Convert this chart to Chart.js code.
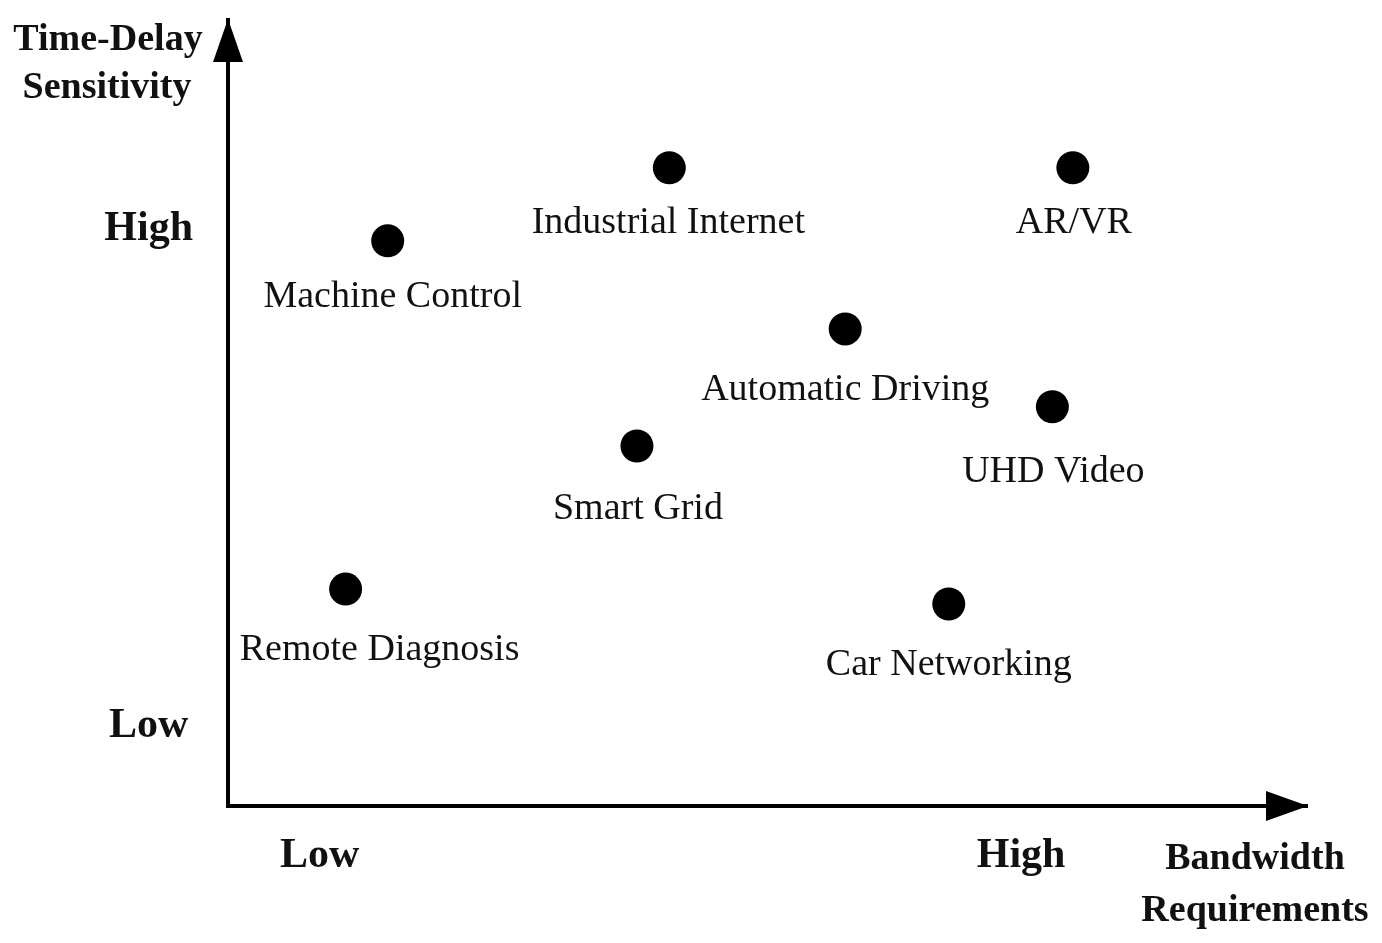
<!DOCTYPE html>
<html>
<head>
<meta charset="utf-8">
<script src="https://cdn.jsdelivr.net/npm/chart.js@4/dist/chart.umd.min.js"></script>
<style>
  html, body { margin: 0; padding: 0; background: #fff; }
  #wrap { width: 1382px; height: 943px; }
</style>
</head>
<body>
<div id="wrap"><canvas id="c" width="1382" height="943"></canvas></div>
<script>
// ---- data ----
const categories = ["Industrial Internet", "AR/VR", "Machine Control", "Automatic Driving",
                    "UHD Video", "Smart Grid", "Remote Diagnosis", "Car Networking"];
const bandwidth = [40.9, 78.3, 14.8, 57.2, 76.4, 37.9, 10.9, 66.8];   // x values
const delaySens = [81.2, 81.2, 71.9, 60.7, 50.8, 45.8, 27.6, 25.7];   // y values
const xTickValues = [8.5, 73.5];
const xTickLabels = ["Low", "High"];
const yTickValues = [10.2, 73.4];
const yTickLabels = ["Low", "High"];
const xTitle = ["Bandwidth", "Requirements"];
const yTitle = ["Time-Delay", "Sensitivity"];

// ---- label placement (style) ----
const labelOffsets = [[-1, 55], [1, 55], [5, 56], [0, 61], [1, 65], [1, 63], [34, 61], [0, 61]];

const serif = "'Liberation Serif', 'Times New Roman', serif";

const annotate = {
  id: 'annotate',
  afterDraw(chart) {
    const ctx = chart.ctx;
    const area = chart.chartArea;
    const meta = chart.getDatasetMeta(0);
    ctx.save();
    // point labels
    ctx.fillStyle = '#111';
    ctx.font = "38px " + serif;
    ctx.textAlign = 'center';
    ctx.textBaseline = 'middle';
    meta.data.forEach((pt, i) => {
      const off = labelOffsets[i] || [0, 55];
      ctx.fillText(categories[i], pt.x + off[0], pt.y + off[1]);
    });
    // arrowheads
    ctx.fillStyle = '#000';
    ctx.beginPath();
    ctx.moveTo(area.left, area.top - 1);
    ctx.lineTo(area.left - 15, area.top + 42);
    ctx.lineTo(area.left + 15, area.top + 42);
    ctx.closePath();
    ctx.fill();
    ctx.beginPath();
    ctx.moveTo(area.right + 1, area.bottom);
    ctx.lineTo(area.right - 41, area.bottom - 15);
    ctx.lineTo(area.right - 41, area.bottom + 15);
    ctx.closePath();
    ctx.fill();
    // axis titles
    ctx.fillStyle = '#111';
    ctx.font = "bold 38px " + serif;
    ctx.fillText(yTitle[0], area.left - 120, area.top + 20);
    ctx.fillText(yTitle[1], area.left - 121, area.top + 68);
    ctx.fillText(xTitle[0], area.right - 52, area.bottom + 53);
    ctx.fillText(xTitle[1], area.right - 52, area.bottom + 105);
    ctx.restore();
  }
};

new Chart(document.getElementById('c'), {
  type: 'scatter',
  data: {
    datasets: [{
      label: 'Applications',
      data: bandwidth.map((x, i) => ({ x: x, y: delaySens[i] })),
      backgroundColor: '#000',
      borderWidth: 0,
      pointRadius: 16.5,
      pointHoverRadius: 16.5
    }]
  },
  options: {
    responsive: false,
    animation: false,
    events: [],
    layout: { padding: { left: 0, top: 20, right: 75, bottom: 0 } },
    plugins: { legend: { display: false }, tooltip: { enabled: false } },
    scales: {
      x: {
        type: 'linear', position: 'bottom', min: 0, max: 100,
        grid: { display: false, drawTicks: false },
        border: { display: true, color: '#000', width: 4 },
        afterBuildTicks: (s) => { s.ticks = xTickValues.map(v => ({ value: v })); },
        afterFit: (s) => { s.height = 943 - 806; s.paddingLeft = 0; s.paddingRight = 0; },
        ticks: {
          autoSkip: false, maxRotation: 0, padding: 25, color: '#111',
          font: { family: serif, size: 42, weight: 'bold' },
          callback: (v, i) => xTickLabels[i]
        }
      },
      y: {
        type: 'linear', position: 'left', min: 0, max: 100,
        grid: { display: false, drawTicks: false },
        border: { display: true, color: '#000', width: 4 },
        afterBuildTicks: (s) => { s.ticks = yTickValues.map(v => ({ value: v })); },
        afterFit: (s) => { s.width = 228; s.paddingTop = 0; s.paddingBottom = 0; },
        ticks: {
          autoSkip: false, crossAlign: 'center', padding: 35, color: '#111',
          font: { family: serif, size: 42, weight: 'bold' },
          callback: (v, i) => yTickLabels[i]
        }
      }
    }
  },
  plugins: [annotate]
});
</script>
</body>
</html>
